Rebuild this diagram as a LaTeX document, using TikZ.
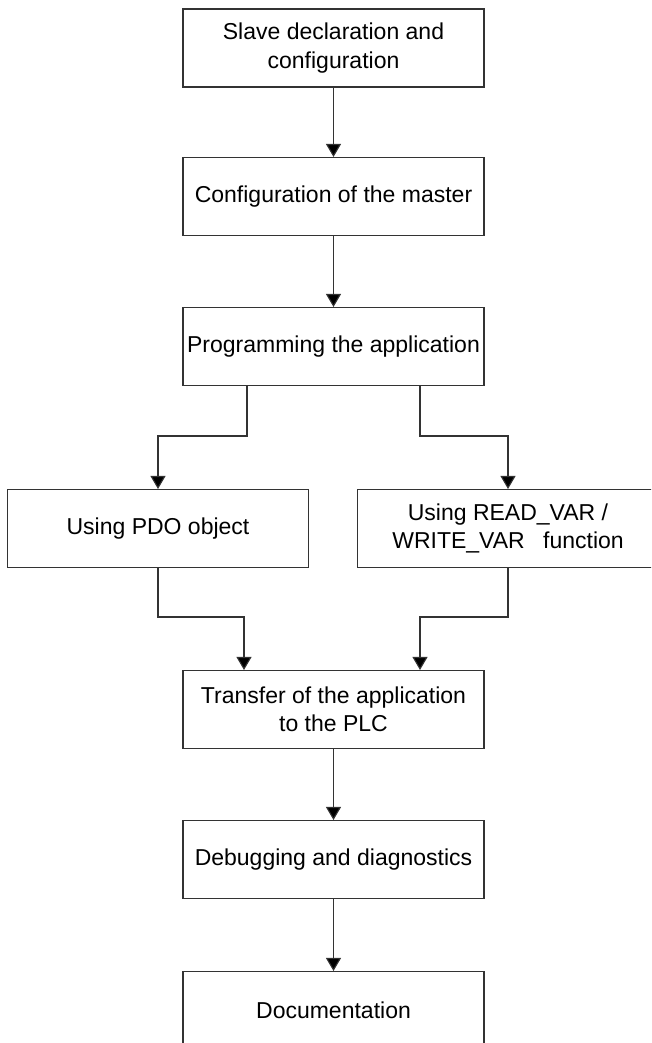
\documentclass[tikz,border=0pt]{standalone}
\usepackage{fontspec}
\setmainfont{Liberation Sans}
\usetikzlibrary{arrows.meta,calc}
\begin{document}
\begin{tikzpicture}[x=1pt,y=-1pt,
  box/.style={draw=black!80,line width=1.1pt,rectangle,minimum width=301pt,minimum height=78pt,
    inner sep=0pt,align=center,font=\fontsize{23}{28.5}\selectfont},
  conn/.style={draw=black!80,line width=1.1pt},
  arr/.style={conn,-{Triangle[width=15pt,length=13pt,fill=black]}}]
\useasboundingbox (0,0) rectangle (651,1043);
\clip (0,0) rectangle (651,1043);
\node[box] (b1) at (333.5,48) {Slave declaration and\\configuration};
\node[box] (b2) at (333.5,196.5) {Configuration of the master};
\node[box] (b3) at (333.5,346.5) {Programming the application};
\node[box] (b4) at (158,528.5) {Using PDO object};
\node[box] (b5) at (508,528.5) {Using READ\_VAR /\\WRITE\_VAR\hspace{12pt} function};
\node[box] (b6) at (333.5,709.5) {Transfer of the application\\to the PLC};
\node[box] (b7) at (333.5,859.5) {Debugging and diagnostics};
\node[box] (b8) at (333.5,1010.5) {Documentation};
\coordinate (h1) at (0,436);
\coordinate (h2) at (0,617);
\coordinate (l1) at ($(b3.south)+(-86.5,0)$);
\coordinate (r1) at ($(b3.south)+(86.5,0)$);
\coordinate (l2) at ($(b6.north)+(-89.5,0)$);
\coordinate (r2) at ($(b6.north)+(86.5,0)$);
\draw[arr] (b1.south) -- (b2.north);
\draw[arr] (b2.south) -- (b3.north);
\draw[arr] (l1) -- (l1 |- h1) -- (b4.north |- h1) -- (b4.north);
\draw[arr] (r1) -- (r1 |- h1) -- (b5.north |- h1) -- (b5.north);
\draw[arr] (b4.south) -- (b4.south |- h2) -- (l2 |- h2) -- (l2);
\draw[arr] (b5.south) -- (b5.south |- h2) -- (r2 |- h2) -- (r2);
\draw[arr] (b6.south) -- (b7.north);
\draw[arr] (b7.south) -- (b8.north);
\end{tikzpicture}
\end{document}
